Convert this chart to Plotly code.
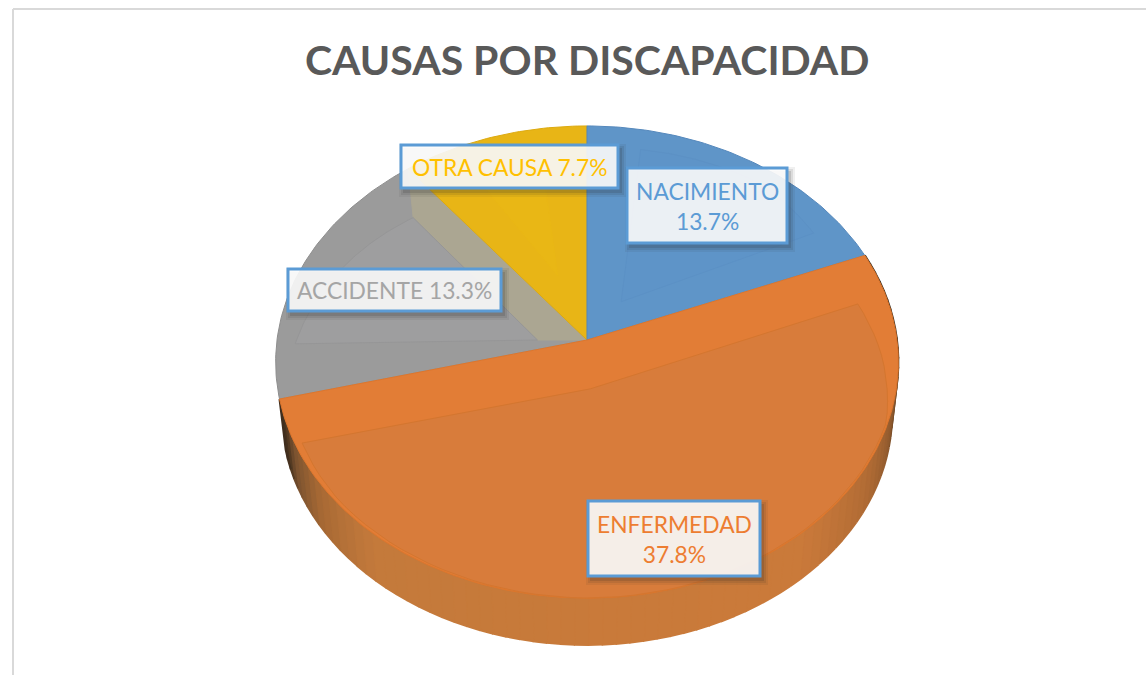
import numpy as np
import plotly.graph_objects as go

# ---- data ----
categories = ["NACIMIENTO", "ENFERMEDAD", "ACCIDENTE", "OTRA CAUSA"]
values = [13.7, 37.8, 13.3, 7.7]
separators = ["<br>", "<br>", " ", " "]
title_text = "CAUSAS POR DISCAPACIDAD"

# ---- styles ----
label_colors = ["#5B9BD5", "#ED7D31", "#A5A5A5", "#FFC000"]
outer_colors = ["#5F95C8", "#E27D36", "#9B9B9B", "#E8B516"]
inner_colors = ["#5E94C8", "#D87C3B", "#9E9E9F", "#E9B715"]
edge_colors = ["#5588BC", "#DE762C", "#8E8E8E", "#DDAA10"]
inner_lines = ["#5C91C5", "#D4762F", "#969697", "#E9B715"]
boxes = [(627, 168, 787, 243), (588, 501, 760, 576), (288, 269, 501, 311), (401, 145, 618, 188)]
CX, CY, A, B, K = 587, 340, 234, 310, 0.0932
DY, F = 52, 0.98
FONT = "Lato"
# bevel outline of each top face: rim angles (deg), rim radii, inner apex (deg, radius)
bevel_angles = [[12, 40, 58], [80, 95, 110, 180, 230, 244.4], [269, 313], [333, 349]]
bevel_radii = [[.90, .93, .90], [.90, .95, .995, 1.0, .99, .979], [.94, .806], [.80, .80]]
bevel_apex = [(34, .20), (177, .205), (270, .16), (341, .30)]


def project(theta, r=1.0, dy=0.0, f=1.0):
    s, c = r * np.sin(theta), r * np.cos(theta)
    den = 1 + K * c
    return CX + f * B * s / den, CY + dy - f * A * c / den


def arc(t1, t2, r=1.0, dy=0.0, f=1.0):
    n = max(int(abs(t2 - t1) * 60), 2)
    return project(np.linspace(t1, t2, n), r, dy, f)


shares = np.array(values) / sum(values)
bounds = np.concatenate([[0], np.cumsum(shares)]) * 2 * np.pi

fig = go.Figure()


def poly(x, y, fill, line=None, width=1.0):
    fig.add_trace(go.Scatter(x=x, y=y, mode="lines", fill="toself", fillcolor=fill,
                             line=dict(color=line or fill, width=width),
                             hoverinfo="skip", showlegend=False))


# extruded side of the front slice
side_stops = np.radians([68, 88, 95, 105, 120, 140, 180, 220, 235, 246, 251, 256])
side_rgb = np.array([
    [60, 44, 28], [60, 44, 28], [92, 62, 34], [143, 90, 46], [178, 108, 53], [203, 122, 59],
    [201, 122, 58], [196, 122, 60], [168, 106, 53], [122, 82, 48], [74, 52, 32], [60, 44, 30],
])
t1, t2 = bounds[1], bounds[2]
edges = np.linspace(t1, t2, 80)
for a, b in zip(edges[:-1], edges[1:]):
    mid = (a + b) / 2
    rgb = [int(np.interp(mid, side_stops, side_rgb[:, i])) for i in range(3)]
    xa, ya = project(np.array([a, b]))
    xb, yb = project(np.array([b, a]), 1.0, DY, F)
    poly(list(xa) + list(xb), list(ya) + list(yb), f"rgb({rgb[0]},{rgb[1]},{rgb[2]})", width=2)

# top faces: order gray, yellow, blue, orange
for i in [2, 3, 0, 1]:
    a, b = bounds[i], bounds[i + 1]
    x, y = arc(a, b)
    poly([CX] + list(x) + [CX], [CY] + list(y) + [CY], outer_colors[i], edge_colors[i], 1)
    deg = np.linspace(bevel_angles[i][0], bevel_angles[i][-1], 60)
    rad = np.interp(deg, bevel_angles[i], bevel_radii[i])
    ix, iy = project(np.radians(deg), rad)
    ax, ay = project(np.radians(bevel_apex[i][0]), bevel_apex[i][1])
    if i == 2:  # warm reflection along the edge next to the yellow slice
        ex, ey = project(np.array([b]))
        poly([CX, ex[0], ix[-1], ax, CX], [CY, ey[0], iy[-1], ay, CY], "#ABA692", "#ABA692", 1)
    poly([ax] + list(ix) + [ax], [ay] + list(iy) + [ay], inner_colors[i], inner_lines[i], 1)

shapes = [
    dict(type="line", x0=13, y0=9, x1=1146, y1=9, line=dict(color="#D9D9D9", width=2), layer="below"),
    dict(type="line", x0=13, y0=9, x1=13, y1=675, line=dict(color="#D9D9D9", width=2), layer="below"),
]
annotations = [dict(x=587, y=59, text=f"<b>{title_text}</b>", showarrow=False,
                    font=dict(family=FONT, size=41, color="#595959"))]
for cat, val, sep, col, (x0, y0, x1, y1) in zip(categories, values, separators, label_colors, boxes):
    for grow, alpha in [(5, 0.07), (3, 0.10), (1, 0.15)]:
        shapes.append(dict(type="rect", x0=x0 + 3 - grow, y0=y0 + 4 - grow, x1=x1 + 3 + grow, y1=y1 + 4 + grow,
                           fillcolor=f"rgba(40,40,40,{alpha})", line=dict(width=0)))
    shapes.append(dict(type="rect", x0=x0, y0=y0, x1=x1, y1=y1, fillcolor="rgba(255,255,255,0.89)",
                       line=dict(color="#5B9BD5", width=3)))
    annotations.append(dict(x=(x0 + x1) / 2, y=(y0 + y1) / 2, text=f"{cat}{sep}{val}%", showarrow=False,
                            font=dict(family=FONT, size=22.8, color=col)))

fig.update_layout(
    width=1146, height=675, margin=dict(l=0, r=0, t=0, b=0),
    paper_bgcolor="white", plot_bgcolor="white", showlegend=False,
    xaxis=dict(range=[0, 1146], visible=False, fixedrange=True),
    yaxis=dict(range=[675, 0], visible=False, fixedrange=True),
    shapes=shapes, annotations=annotations,
)
fig.write_html("out.html", config={"displayModeBar": False},
               post_script="document.body.style.margin='0';document.body.style.overflow='hidden';")
